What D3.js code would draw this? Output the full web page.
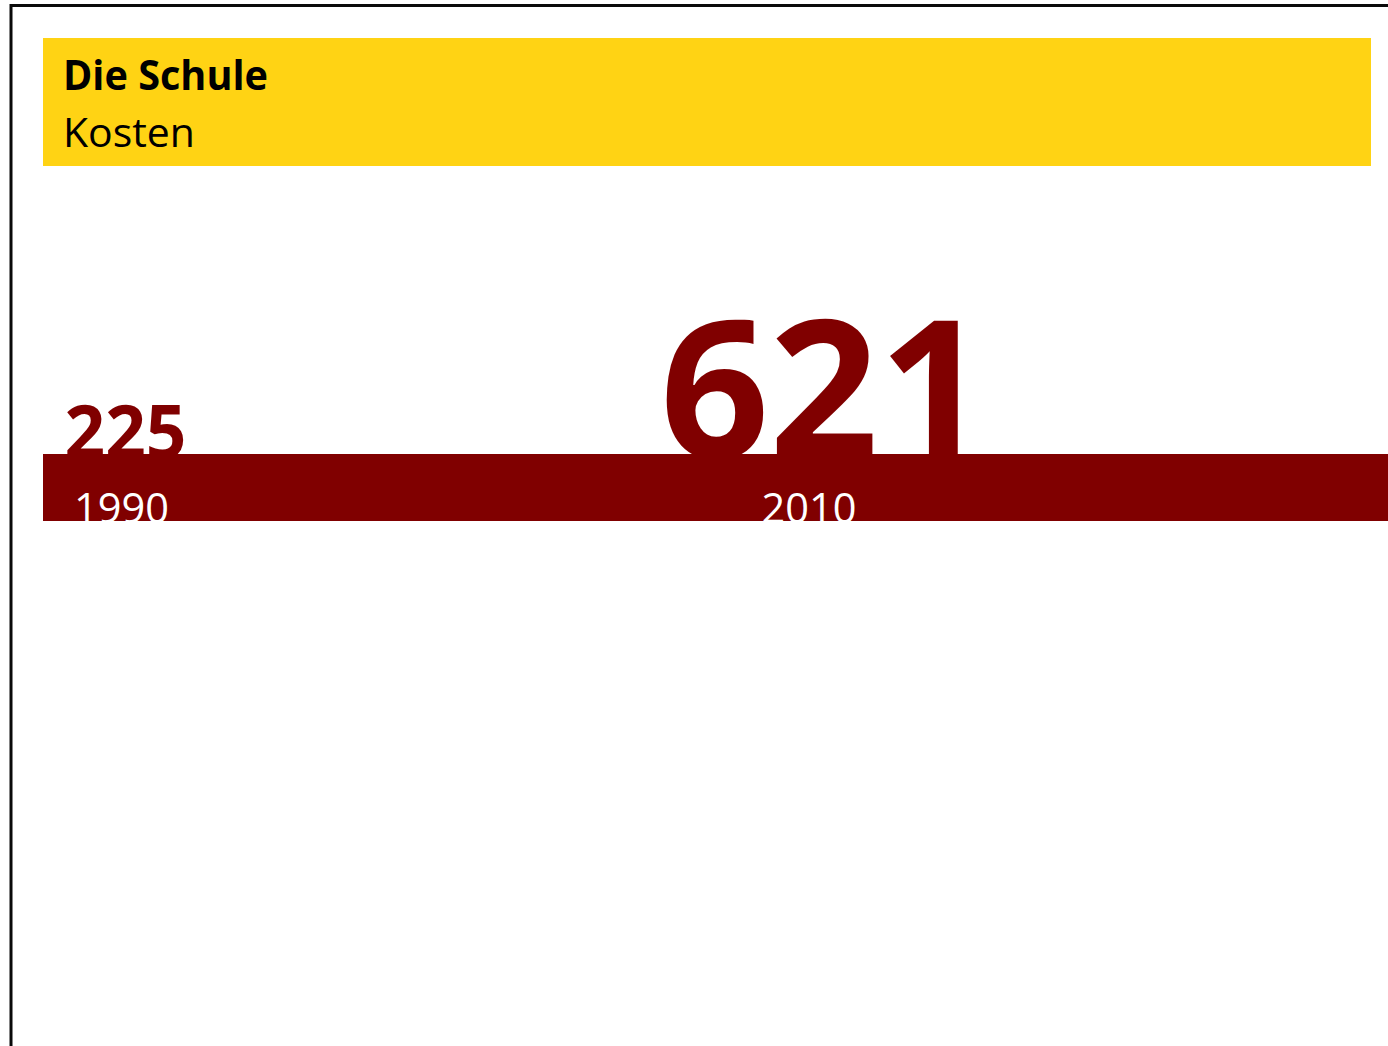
<!DOCTYPE html>
<html>
<head>
<meta charset="utf-8">
<script src="https://cdn.jsdelivr.net/npm/d3@7"></script>
<style>
  html, body { margin: 0; padding: 0; background: #fff; overflow: hidden; }
  svg { display: block; }
  text { font-family: "Open Sans", "DejaVu Sans", sans-serif; }
</style>
</head>
<body>
<svg id="chart" width="1388" height="1046"></svg>
<script>
// ---- data ----
const years = ["1990", "2010"];
const values = [225, 621];
const titleText = "Die Schule";
const subtitleText = "Kosten";

// ---- layout ----
const W = 1388, H = 1046;
const svg = d3.select("#chart");

// frame (left and top border)
svg.append("path")
  .attr("d", `M11,${H} L11,5.5 L${W},5.5`)
  .attr("fill", "none")
  .attr("stroke", "#0a0a0a")
  .attr("stroke-width", 3);

// header
svg.append("rect")
  .attr("x", 43).attr("y", 38)
  .attr("width", 1328).attr("height", 128)
  .attr("fill", "#FFD314");

svg.append("text")
  .attr("x", 63).attr("y", 90)
  .attr("font-size", 42).attr("font-weight", 700)
  .attr("textLength", 205).attr("lengthAdjust", "spacingAndGlyphs")
  .attr("fill", "#000")
  .text(titleText);

svg.append("text")
  .attr("x", 63).attr("y", 147)
  .attr("font-size", 41).attr("font-weight", 400)
  .attr("textLength", 132).attr("lengthAdjust", "spacingAndGlyphs")
  .attr("fill", "#000")
  .text(subtitleText);

// scales
const x = d3.scalePoint().domain(years).range([121.5, 809]);
const fs = d3.scaleLinear().domain([225, 621]).range([74, 193]);
const wScale = d3.scaleLinear().domain([225, 621]).range([122, 328]);

const data = years.map((y, i) => ({ year: y, value: values[i] }));

// value labels (big numbers), hidden below the bar top
const vclip = svg.append("clipPath").attr("id", "valclip");
vclip.append("rect").attr("x", 0).attr("y", 0).attr("width", W).attr("height", 454);

svg.append("g").attr("clip-path", "url(#valclip)")
  .selectAll("text.val")
  .data(data)
  .join("text")
  .attr("class", "val")
  .attr("x", d => x(d.year) + (d.value > 400 ? 15 : 4))
  .attr("y", 458)
  .attr("text-anchor", "middle")
  .attr("font-size", d => fs(d.value))
  .attr("font-weight", 700)
  .attr("textLength", d => wScale(d.value))
  .attr("lengthAdjust", "spacingAndGlyphs")
  .attr("fill", "#800000")
  .text(d => d.value);

// band bar
svg.append("rect")
  .attr("x", 43).attr("y", 454)
  .attr("width", W - 43).attr("height", 67)
  .attr("fill", "#800000");

// year labels (clipped by bar bottom)
const clip = svg.append("clipPath").attr("id", "barclip");
clip.append("rect").attr("x", 43).attr("y", 454).attr("width", W - 43).attr("height", 67);

svg.append("g").attr("clip-path", "url(#barclip)")
  .selectAll("text.yr")
  .data(data)
  .join("text")
  .attr("class", "yr")
  .attr("x", d => x(d.year))
  .attr("y", 523)
  .attr("text-anchor", "middle")
  .attr("font-size", 42)
  .attr("textLength", 95)
  .attr("lengthAdjust", "spacingAndGlyphs")
  .attr("fill", "#fff")
  .text(d => d.year);
</script>
</body>
</html>
